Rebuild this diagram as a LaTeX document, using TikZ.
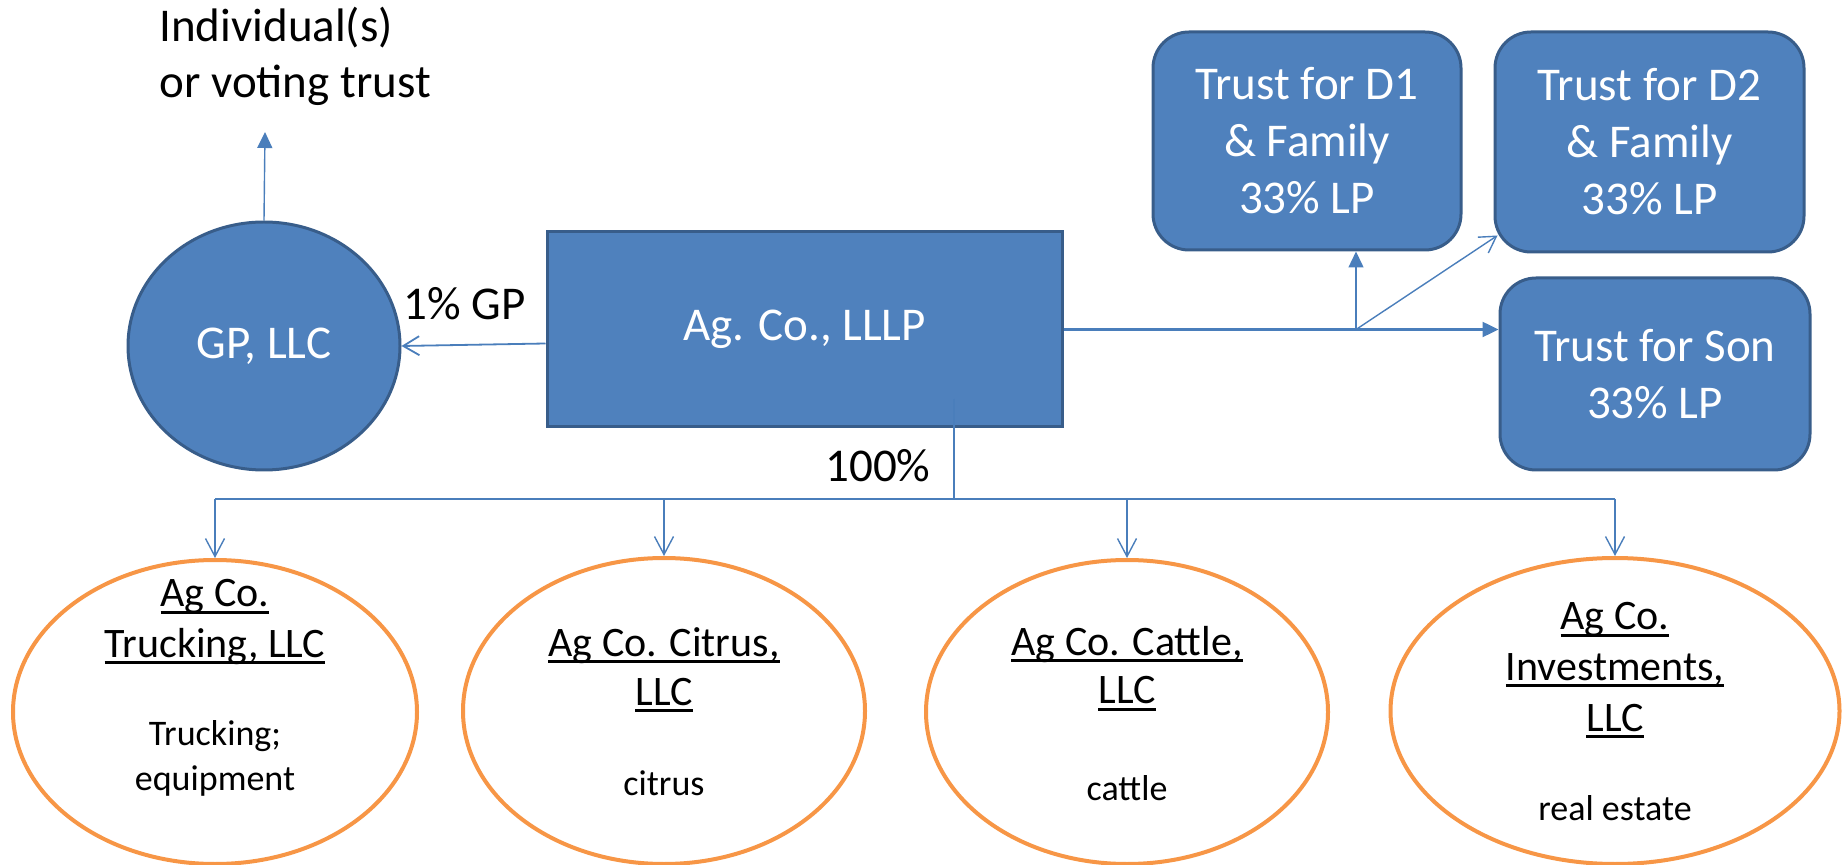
\documentclass[tikz,border=0pt]{standalone}
\usepackage{fontspec}
\setmainfont{Carlito}
\usetikzlibrary{arrows.meta,shapes.geometric}
\definecolor{blu}{HTML}{4F81BD}
\definecolor{blued}{HTML}{385D8A}
\definecolor{connc}{HTML}{4A7EBB}
\definecolor{orng}{HTML}{F79646}
\newcommand\myul[1]{\setbox0\hbox{#1}\rlap{\rule[-3.3pt]{\wd0}{1.35pt}}\box0}
\begin{document}
\begin{tikzpicture}[x=0.5pt,y=-0.5pt,
  bigtxt/.style={font=\fontsize{23.5}{28.5}\selectfont},
  bluebox/.style={draw=blued, fill=blu, line width=1.5pt, text=white, bigtxt, align=center, inner sep=0pt},
  subell/.style={ellipse, draw=orng, line width=2pt, fill=white, inner sep=0pt},
  ttl/.style={font=\fontsize{21}{25}\selectfont, anchor=base, inner sep=0pt},
  dsc/.style={font=\fontsize{18}{22.5}\selectfont, anchor=base, inner sep=0pt},
  lbl/.style={bigtxt, anchor=base west, inner sep=0pt},
  conn/.style={draw=connc, line width=0.9pt},
  connthin/.style={draw=connc, line width=0.7pt},
  tri/.style={-{Triangle[length=8pt,width=7.5pt]}},
  barb/.style={-{Straight Barb[length=8pt,width=9.5pt]}}
]
\useasboundingbox (0,0) rectangle (1847,865);

% top nodes
\node[bluebox, ellipse, minimum width=136pt, minimum height=124pt] (gp) at (264,346) {GP, LLC};
\node[bluebox, rectangle, minimum width=257.5pt, minimum height=97.5pt] (lllp) at (804.5,329.5) {Ag. Co., LLLP};
\node[bluebox, rounded corners=18pt, minimum width=154pt, minimum height=109pt] (d1) at (1307,141) {Trust for D1\\\& Family\\33\% LP};
\node[bluebox, rounded corners=18pt, minimum width=154.5pt, minimum height=110pt] (d2) at (1649.5,142) {Trust for D2\\\& Family\\33\% LP};
\node[bluebox, rounded corners=18pt, minimum width=155pt, minimum height=96pt] (son) at (1655,374) {Trust for Son\\33\% LP};

% labels
\node[lbl] (ind1) at (159,42) {Individual(s)};
\node[lbl] (ind2) at (159,98) {or voting trust};
\node[lbl] (gplbl) at (403,320) {1\% GP};
\node[lbl] (pct) at (825,482) {100\%};

% bottom ellipses
\node[subell, minimum width=202pt, minimum height=152pt] (e1) at (215,712) {};
\node[subell, minimum width=201pt, minimum height=153pt] (e2) at (664,711) {};
\node[subell, minimum width=201pt, minimum height=152pt] (e3) at (1127,712) {};
\node[subell, minimum width=224.5pt, minimum height=153pt] (e4) at (1615,711) {};

\node[ttl] (t1a) at (215,607) {\myul{Ag Co.}};
\node[ttl] (t1b) at (215,657) {\myul{Trucking, LLC}};
\node[dsc] (s1a) at (215,745) {Trucking;};
\node[dsc] (s1b) at (215,790) {equipment};

\node[ttl] (t2a) at (664,656) {\myul{Ag Co. Citrus,}};
\node[ttl] (t2b) at (664,705) {\myul{LLC}};
\node[dsc] (s2a) at (664,795) {citrus};

\node[ttl] (t3a) at (1127,655) {\myul{Ag Co. Cattle,}};
\node[ttl] (t3b) at (1127,704) {\myul{LLC}};
\node[dsc] (s3a) at (1127,800) {cattle};

\node[ttl] (t4a) at (1615,630) {\myul{Ag Co.}};
\node[ttl] (t4b) at (1615,680) {\myul{Investments,}};
\node[ttl] (t4c) at (1615,731) {\myul{LLC}};
\node[dsc] (s4a) at (1615,820) {real estate};

% connectors
\coordinate (ind) at (265,132);
\draw[connthin, tri] (gp.north) -- (ind);
\draw[conn, barb] ([yshift=-7pt]lllp.west) -- (gp.east);
\draw[conn, line width=1.2pt, tri] (lllp.east) -- (lllp.east -| son.west);
\coordinate (br) at (1356,329.5);
\draw[connthin, tri] (br) -- (br |- d1.south);
\draw[connthin, barb] (br) -- ([shift={(4,-18)}]d2.south west);

\coordinate (tr) at (954,399);
\coordinate (bus) at (954,499);
\draw[connthin] (tr) -- (bus);
\draw[connthin] (e1.north |- bus) -- (e4.north |- bus);
\foreach \e in {e1,e2,e3,e4}{
  \draw[connthin, -{Straight Barb[length=9pt,width=9.5pt]}] (\e.north |- bus) -- (\e.north);
}
\end{tikzpicture}
\end{document}
